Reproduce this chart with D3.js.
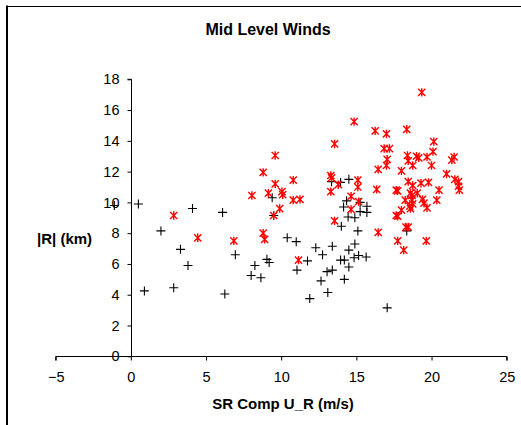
<!DOCTYPE html>
<html>
<head>
<meta charset="utf-8">
<script src="https://cdn.jsdelivr.net/npm/d3@7"></script>
<style>
  body { margin: 0; background: #fff; }
  svg { display: block; font-family: Arial, "Liberation Sans", sans-serif; }
</style>
</head>
<body>
<svg id="chart"></svg>
<script>
// cross markers (black)
const plusPoints = [
  [-1.1, 9.8], [0.5, 9.9], [0.9, 4.25], [2.0, 8.15], [2.85, 4.45], [3.3, 6.95],
  [3.8, 5.9], [4.1, 9.6], [6.1, 9.35], [6.25, 4.05], [6.95, 6.6], [8.0, 5.25],
  [8.25, 5.9], [8.65, 5.1], [9.05, 6.3], [9.2, 6.1], [9.4, 10.3], [9.5, 9.15],
  [10.4, 7.7], [11.0, 7.45], [11.05, 5.6], [11.75, 6.2], [11.9, 3.75], [12.3, 7.05],
  [12.75, 6.6], [12.65, 4.9], [13.1, 4.15], [13.05, 5.5], [13.4, 5.6], [13.4, 7.15],
  [13.35, 11.35], [13.95, 11.3], [13.95, 6.25], [14.2, 6.25], [14.2, 5.0], [14.0, 8.45],
  [14.15, 9.7], [14.35, 10.1], [14.45, 9.05], [14.5, 11.5], [14.5, 6.9], [14.5, 5.8],
  [14.9, 9.0], [14.9, 7.3], [14.85, 6.4], [15.15, 6.55], [15.1, 8.15], [15.25, 9.4],
  [15.25, 10.0], [15.7, 9.75], [15.7, 9.35], [15.65, 6.45], [17.05, 3.15], [18.35, 8.15]
];

// star markers (red)
const starPoints = [
  [2.85, 9.15], [4.45, 7.7], [6.85, 7.5], [8.05, 10.45], [8.8, 11.95], [8.8, 8.0],
  [8.9, 7.6], [9.15, 10.6], [9.6, 13.05], [9.6, 11.2], [9.5, 9.15], [9.9, 9.6],
  [10.05, 10.7], [10.1, 10.5], [10.8, 11.45], [10.8, 10.15], [11.25, 10.2], [11.15, 6.25],
  [13.3, 11.75], [13.35, 11.6], [13.3, 10.7], [13.55, 13.8], [13.55, 8.8], [13.8, 11.15],
  [14.85, 15.25], [14.65, 10.4], [14.65, 9.55], [15.1, 11.45], [15.1, 11.0], [15.15, 10.05],
  [16.25, 14.65], [16.45, 12.15], [16.35, 10.85], [16.45, 8.05], [17.0, 14.45], [16.85, 13.5],
  [17.2, 13.5], [17.05, 12.8], [17.0, 12.4], [17.65, 10.8], [17.75, 10.75], [17.65, 9.15],
  [17.75, 9.1], [17.75, 7.5], [18.0, 12.05], [18.15, 6.9], [18.0, 9.5], [18.25, 10.15],
  [18.35, 14.75], [18.4, 13.05], [18.45, 12.7], [18.45, 11.35], [18.3, 8.4], [18.45, 8.4],
  [18.75, 12.4], [18.75, 11.1], [18.6, 10.6], [18.7, 10.15], [18.6, 9.6], [18.75, 9.9],
  [18.7, 10.45], [18.55, 9.75], [19.05, 10.6], [19.0, 13.0], [19.15, 12.9], [19.35, 17.15],
  [19.3, 11.25], [19.4, 10.2], [19.5, 9.95], [19.65, 7.5], [19.7, 9.65], [19.7, 12.95],
  [19.8, 11.3], [20.0, 12.4], [20.1, 13.3], [20.15, 13.95], [20.35, 10.15], [20.5, 10.8],
  [21.0, 11.85], [21.35, 12.75], [21.5, 12.95], [21.55, 11.5], [21.8, 11.35], [21.85, 10.8],
  [21.8, 11.05]
];

const xTicks = [-5, 0, 5, 10, 15, 20, 25];
const yTicks = [0, 2, 4, 6, 8, 10, 12, 14, 16, 18];

const width = 521, height = 425;
const svg = d3.select("#chart").attr("width", width).attr("height", height);

// chart frame (cropped on right/bottom)
svg.append("line").attr("x1", 7).attr("x2", 7).attr("y1", 5.5).attr("y2", height)
  .attr("stroke", "#000").attr("stroke-width", 2);
svg.append("line").attr("x1", 6).attr("x2", width).attr("y1", 6.5).attr("y2", 6.5)
  .attr("stroke", "#000").attr("stroke-width", 1);

const x = d3.scaleLinear().domain([-5, 25]).range([55.7, 506.7]);
const y = d3.scaleLinear().domain([0, 18]).range([356.3, 79.3]);

// x axis along y = 0
const xAxis = svg.append("g")
  .attr("transform", `translate(0,${Math.round(y(0)) + 0.5})`)
  .call(d3.axisBottom(x).tickValues(xTicks).tickSize(4).tickPadding(11).tickFormat(d3.format("d")));

// y axis along x = 0
const yAxis = svg.append("g")
  .attr("transform", `translate(${Math.round(x(0)) + 0.5},0)`)
  .call(d3.axisLeft(y).tickValues(yTicks).tickSize(4).tickPadding(8).tickFormat(d3.format("d")));

[xAxis, yAxis].forEach(g => {
  g.select(".domain").attr("stroke", "#000");
  g.selectAll(".tick line").attr("stroke", "#000");
  g.selectAll(".tick text").attr("fill", "#000")
    .style("font-size", "14.5px").style("font-family", "Arial, 'Liberation Sans', sans-serif");
});
xAxis.select(".domain").attr("d", `M${x(-5)},4V0H${x(25)}V4`);
yAxis.select(".domain").attr("d", `M-4,${y(18)}H0V${y(0)}`);

// markers
svg.append("g").selectAll("path")
  .data(plusPoints)
  .join("path")
  .attr("transform", d => `translate(${x(d[0])},${y(d[1])})`)
  .attr("d", "M-4.5,0H4.5M0,-4.5V4.5")
  .attr("stroke", "#000")
  .attr("stroke-width", 1.1)
  .attr("fill", "none");

svg.append("g").selectAll("path")
  .data(starPoints)
  .join("path")
  .attr("transform", d => `translate(${x(d[0])},${y(d[1])})`)
  .attr("d", "M-3.6,-3.6L3.6,3.6M-3.6,3.6L3.6,-3.6M0,-4.2V4.2")
  .attr("stroke", "#ff0000")
  .attr("stroke-width", 1.4)
  .attr("fill", "none");

// titles
svg.append("text")
  .attr("x", 268).attr("y", 35)
  .attr("text-anchor", "middle")
  .style("font-size", "16px").style("font-weight", "bold")
  .text("Mid Level Winds");

svg.append("text")
  .attr("x", 283).attr("y", 409)
  .attr("text-anchor", "middle")
  .style("font-size", "15px").style("font-weight", "bold")
  .text("SR Comp U_R (m/s)");

svg.append("text")
  .attr("x", 37).attr("y", 244)
  .attr("text-anchor", "start")
  .style("font-size", "15px").style("font-weight", "bold")
  .text("|R| (km)");
</script>
</body>
</html>
